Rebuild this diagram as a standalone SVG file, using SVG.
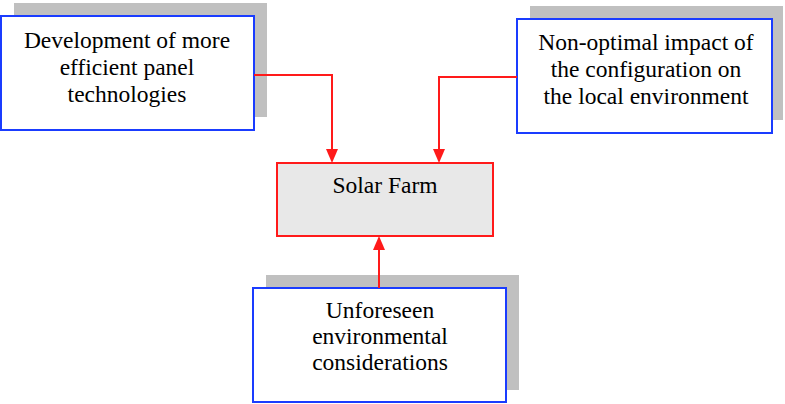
<svg xmlns="http://www.w3.org/2000/svg" width="785" height="404" viewBox="0 0 785 404">
<style>
.sh{fill:#c0c0c0}
.bx{fill:#fff;stroke:#1a3cff;stroke-width:2}
.sf{fill:#e8e8e8;stroke:#ff1a1a;stroke-width:2}
.c{fill:none;stroke:#ff1a1a;stroke-width:2}
.ah{fill:#ff1a1a}
</style>
<rect width="785" height="404" fill="#fff"/>
<g font-family="'Liberation Serif', 'Times New Roman', serif" font-size="23.5" fill="#000" text-anchor="middle">
<g id="node-dev">
<rect class="sh" x="14" y="3" width="253" height="114"/>
<rect class="bx" x="1" y="16" width="253" height="114"/>
<text x="127" y="48">Development of more</text>
<text x="127" y="75">efficient panel</text>
<text x="127" y="102">technologies</text>
</g>
<g id="node-impact">
<rect class="sh" x="530" y="6" width="253" height="114"/>
<rect class="bx" x="517" y="19" width="255" height="114"/>
<text x="646" y="50">Non-optimal impact of</text>
<text x="646" y="77">the configuration on</text>
<text x="646" y="104">the local environment</text>
</g>
<g id="node-solar">
<rect class="sf" x="277" y="163" width="216" height="73"/>
<text x="385" y="193">Solar Farm</text>
</g>
<g id="node-unforeseen">
<rect class="sh" x="266" y="275" width="253" height="115"/>
<rect class="bx" x="253" y="288" width="253" height="114"/>
<text x="380" y="318">Unforeseen</text>
<text x="380" y="344">environmental</text>
<text x="380" y="370">considerations</text>
</g>
</g>
<g id="connectors">
<polyline class="c" points="254,75 332,75 332,150"/>
<polygon class="ah" points="326,149 338,149 332,163"/>
<polyline class="c" points="517,77 439,77 439,150"/>
<polygon class="ah" points="433,149 445,149 439,163"/>
<line class="c" x1="379" y1="288" x2="379" y2="249"/>
<polygon class="ah" points="373,250 385,250 379,236"/>
</g>
</svg>
